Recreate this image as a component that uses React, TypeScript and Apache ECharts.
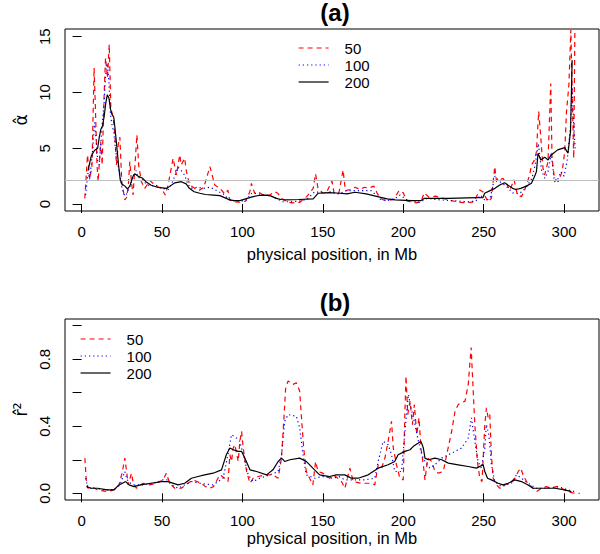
import React, { useEffect, useRef } from "react";
import * as echarts from "echarts";

// ---------- tick labels / categories ----------
const xTicks = [0, 50, 100, 150, 200, 250, 300];
const aYTicks = [0, 5, 10, 15];
const bYTicks = [0, 0.2, 0.4, 0.6, 0.8, 1.0];
const bYLabels = [0, 0.4, 0.8];
const seriesNames = ["50", "100", "200"];
const aThreshold = [2.15];

// ---------- panel (a): alpha-hat ----------
const aPos50 = [2, 3.7, 5.1, 6.5, 7.8, 8.6, 9.6, 10.3, 11.9, 12.8, 14.1, 14.9, 16.1, 17.2, 18.2, 19.7, 20.7, 21.7, 22.8, 23.8, 25, 26.9, 28, 29, 30, 31, 32, 33.1, 34.4, 35.5, 37.2, 39.3, 42.5, 45.5, 49.6, 52, 53.8, 56.9, 59, 61, 62, 64.1, 65.2, 67.2, 70.3, 73, 76, 79.8, 82.8, 86, 89, 91, 92, 95, 99, 102, 104.6, 105.6, 107.6, 109.7, 113, 117, 120, 122, 124.4, 127.5, 131, 135.7, 140, 144, 145.5, 147, 150, 152, 155.7, 157, 160, 162.6, 164, 167, 170, 173, 176, 178, 181.7, 184, 187, 190, 194, 197.4, 200, 202, 205, 208, 211, 213, 216, 220, 225, 230, 235, 240, 244, 247.5, 249.5, 252.7, 254.8, 256.9, 258, 260, 262, 264.1, 266.2, 268.9, 271, 273.5, 275.5, 278.6, 279.7, 281.7, 282.8, 284.2, 285.4, 286.9, 287.9, 290, 291.7, 292.5, 294, 296.3, 298.8, 300.4, 301.5, 303, 304.2, 305, 306, 306.7];
const aVal50 = [0.5, 4.4, 2.2, 3.5, 12.2, 8.6, 3.5, 2.0, 5.6, 3.5, 10.1, 13.1, 11.3, 14.3, 8.6, 7.7, 6.2, 3.5, 5.3, 6.0, 2.0, 0.36, 0.6, 1.5, 3.8, 2.0, 0.8, 3.2, 6.2, 3.5, 2.0, 1.4, 2.1, 1.7, 1.4, 0.8, 1.7, 4.1, 2.6, 4.4, 3.5, 4.1, 2.9, 1.7, 1.4, 1.2, 1.5, 3.35, 1.7, 1.4, 0.9, 1.25, 0.36, 0.2, 0.15, 0.25, 1.1, 1.85, 0.96, 1.1, 0.8, 0.8, 1.1, 0.96, 0.5, 0.2, 0.1, 0.15, 0.66, 1.4, 2.7, 1.4, 1.0, 0.96, 2.05, 0.96, 1.0, 3.05, 1.2, 1.3, 1.5, 1.3, 1.5, 1.4, 1.6, 0.9, 0.4, 0.3, 0.4, 1.2, 1.0, 0.3, 0.15, 0.1, 0.2, 1.0, 0.6, 0.7, 0.5, 0.3, 0.15, 0.1, 0.2, 1.25, 1.1, 0.2, 0.5, 3.35, 2.0, 2.15, 2.3, 1.85, 1.25, 2.15, 0.8, 0.66, 1.25, 2.6, 3.5, 3.95, 4.7, 8.3, 6.2, 3.2, 2.6, 3.8, 10.8, 4.1, 2.3, 2.0, 2.9, 4.7, 8.3, 10.7, 15.6, 10.1, 4.1, 15.6];

const aPos100 = [2.5, 4, 5, 6, 7, 8, 9, 10, 11, 12, 13, 14, 15, 16, 17, 18, 19, 20, 21, 22, 23, 24, 25, 26, 27, 28, 30, 32, 34, 35, 38, 40, 43, 46, 50, 54, 56, 58, 60, 62, 64, 66, 68, 72, 76, 80, 84, 88, 91, 94, 98, 102, 106, 110, 115, 120, 125, 130, 135, 140, 145, 150, 155, 160, 165, 170, 175, 180, 183, 186, 190, 195, 198, 202, 210, 215, 220, 230, 240, 245, 248, 251, 254, 257, 260, 264, 268, 272, 276, 280, 282, 284, 286, 288, 290, 292, 294, 296, 298, 300, 302, 304, 305, 306, 307];
const aVal100 = [0.8, 2.8, 2.3, 3.5, 5.0, 7.3, 6.0, 3.8, 3.5, 5.5, 7.5, 9.0, 11.8, 12.6, 11.0, 8.0, 7.0, 6.5, 5.0, 4.0, 3.2, 2.5, 1.5, 1.0, 0.7, 0.9, 1.6, 2.4, 3.0, 2.4, 2.2, 1.8, 1.6, 1.7, 1.4, 1.3, 1.8, 2.5, 3.3, 3.0, 2.6, 1.8, 1.4, 1.5, 1.4, 1.5, 1.2, 0.9, 0.5, 0.3, 0.25, 0.3, 1.0, 0.9, 0.8, 0.6, 0.2, 0.2, 0.25, 0.4, 1.1, 1.0, 1.1, 0.9, 1.2, 1.2, 1.2, 1.2, 0.8, 0.4, 0.3, 0.5, 0.8, 0.4, 0.15, 0.5, 0.4, 0.3, 0.2, 0.25, 0.8, 0.3, 0.5, 2.5, 2.0, 1.6, 1.0, 0.9, 1.4, 2.3, 3.5, 5.4, 3.0, 2.3, 2.9, 4.5, 2.0, 2.2, 2.9, 2.5, 4.0, 7.0, 10.5, 7.0, 4.8];

const aPos200 = [4, 6, 8, 10, 11, 12, 13, 14, 15, 16, 17, 18, 19, 20, 21, 22, 23, 24, 25, 27, 28.5, 30, 32, 33, 35, 38, 40, 43, 47, 50, 53, 55, 58, 62, 65, 67, 70, 73.5, 77, 82, 86, 90, 92, 95, 98.4, 103, 106.7, 111, 115, 118, 121, 124, 127, 135, 144, 147, 154, 160.5, 165, 170, 177, 184, 190, 195, 205, 211, 213, 228, 240, 246.5, 249.5, 250.6, 254, 257, 260, 263, 266, 268, 270, 273, 276.6, 279.7, 282, 282.8, 283.8, 285.5, 288, 290, 292, 296, 300.4, 302.4, 304, 305];
const aVal200 = [3.0, 4.3, 4.8, 5.0, 6.0, 6.7, 7.0, 7.8, 9.0, 9.8, 9.5, 8.5, 8.0, 7.8, 6.5, 5.0, 3.5, 2.2, 1.8, 1.6, 1.35, 1.6, 2.5, 2.7, 2.5, 2.3, 2.0, 1.7, 1.5, 1.45, 1.4, 1.6, 1.9, 2.0, 1.8, 1.4, 1.1, 0.96, 0.85, 0.8, 0.75, 0.5, 0.36, 0.3, 0.3, 0.5, 0.66, 0.78, 0.8, 0.7, 0.5, 0.4, 0.36, 0.4, 0.45, 0.96, 1.02, 0.96, 0.9, 1.05, 0.9, 0.66, 0.45, 0.36, 0.3, 0.3, 0.5, 0.5, 0.55, 0.57, 0.56, 0.96, 1.2, 1.4, 1.7, 1.9, 1.6, 1.4, 1.3, 1.4, 1.6, 1.85, 2.6, 2.9, 4.55, 3.95, 4.2, 3.95, 4.4, 4.85, 5.05, 4.55, 6.5, 12.9];

// ---------- panel (b): r^2-hat ----------
const bPos50 = [2.05, 3, 4, 6, 10, 16, 20, 23.3, 25.4, 26.9, 28, 29, 31, 32, 34, 38.2, 42.4, 46.5, 50.6, 52.7, 54.8, 57.9, 62, 66.2, 69.3, 74.5, 77, 79.8, 82, 86, 89, 91.1, 92.2, 93.2, 94.3, 95.3, 97.4, 98.4, 99.5, 100.5, 102.6, 104.7, 106.7, 109.8, 114, 119, 122.2, 124.3, 125.7, 126.9, 128.4, 131.5, 133.5, 135.6, 136.6, 138.1, 139.7, 141.8, 143.8, 145.5, 147, 150, 154.2, 156.3, 158, 161.6, 163.7, 166.8, 168.9, 174, 180.3, 182.3, 184.4, 186.5, 188.6, 190.6, 192.7, 193.8, 195.8, 197.9, 200, 201, 201.7, 202.8, 204.2, 205.7, 206.9, 208.4, 209.8, 211, 212.5, 213.5, 215.2, 217.7, 219.7, 221.8, 224.9, 227, 230.1, 232.2, 234.2, 238.4, 240.4, 242.2, 243.5, 244.5, 246.1, 247.6, 249, 250.7, 251.7, 252.8, 253.8, 254.8, 255.9, 258, 260, 263.2, 267.3, 269.4, 271.5, 273, 274.5, 276.6, 279.7, 282.8, 285.9, 289, 292, 295.2, 298.3, 302.4, 306.6, 309.7];
const bVal50 = [0.21, 0.07, 0.03, 0.04, 0.02, 0.01, 0.02, 0.05, 0.13, 0.21, 0.13, 0.05, 0.12, 0.07, 0.03, 0.06, 0.05, 0.06, 0.08, 0.12, 0.06, 0.03, 0.03, 0.06, 0.08, 0.06, 0.04, 0.03, 0.04, 0.11, 0.09, 0.07, 0.23, 0.19, 0.27, 0.29, 0.19, 0.31, 0.37, 0.27, 0.13, 0.06, 0.09, 0.1, 0.11, 0.11, 0.09, 0.21, 0.43, 0.63, 0.67, 0.65, 0.66, 0.61, 0.47, 0.27, 0.13, 0.09, 0.05, 0.19, 0.13, 0.12, 0.09, 0.11, 0.1, 0.07, 0.03, 0.15, 0.07, 0.06, 0.06, 0.05, 0.17, 0.15, 0.21, 0.31, 0.43, 0.27, 0.17, 0.09, 0.08, 0.47, 0.7, 0.47, 0.55, 0.41, 0.53, 0.35, 0.45, 0.27, 0.17, 0.08, 0.21, 0.19, 0.13, 0.12, 0.13, 0.23, 0.37, 0.49, 0.53, 0.55, 0.65, 0.87, 0.61, 0.41, 0.19, 0.09, 0.07, 0.41, 0.51, 0.45, 0.47, 0.23, 0.09, 0.05, 0.03, 0.05, 0.07, 0.09, 0.13, 0.15, 0.11, 0.07, 0.04, 0.01, 0.03, 0.04, 0.03, 0.04, 0.03, 0.01, 0.0, 0.0];

const bPos100 = [2.5, 4, 8, 14, 20, 24, 25.4, 26.9, 28, 29, 32, 38, 45, 50.6, 53, 56, 60, 64, 68.3, 73.5, 81.8, 88, 91, 93.2, 96.3, 98.4, 100.5, 103.6, 106.7, 110.9, 117, 122.2, 124.3, 126.3, 128.4, 133.5, 135.6, 137.7, 139.7, 144.9, 150, 156.3, 160, 163.7, 170, 176, 182.3, 184.4, 187.5, 190.6, 192.7, 194.7, 198.9, 202, 203.2, 204.8, 206.9, 209, 211.5, 213.5, 216.6, 219.7, 223.9, 228, 232.2, 236.3, 240.4, 242.4, 244.5, 246.5, 248.6, 250.7, 251.7, 253.2, 254.8, 256.9, 261, 267.3, 270.4, 273.5, 277.6, 282.8, 290, 296.3, 302.4, 306.6];
const bVal100 = [0.09, 0.03, 0.03, 0.02, 0.02, 0.05, 0.09, 0.13, 0.09, 0.07, 0.05, 0.05, 0.06, 0.08, 0.08, 0.05, 0.03, 0.05, 0.07, 0.06, 0.05, 0.09, 0.23, 0.35, 0.33, 0.31, 0.23, 0.11, 0.07, 0.09, 0.11, 0.13, 0.23, 0.43, 0.47, 0.46, 0.39, 0.23, 0.11, 0.09, 0.1, 0.09, 0.1, 0.08, 0.08, 0.08, 0.09, 0.19, 0.31, 0.29, 0.23, 0.13, 0.13, 0.47, 0.59, 0.51, 0.43, 0.33, 0.23, 0.19, 0.15, 0.17, 0.21, 0.23, 0.25, 0.27, 0.33, 0.45, 0.31, 0.19, 0.15, 0.27, 0.41, 0.35, 0.17, 0.07, 0.04, 0.06, 0.11, 0.09, 0.06, 0.03, 0.03, 0.04, 0.02, 0.01];

const bPos200 = [3, 6, 10, 16, 20, 23.3, 27.5, 29.5, 32.6, 36.7, 43, 49.6, 53.8, 60, 64.1, 68.3, 72.4, 76.5, 81.8, 87, 90, 92.2, 94.3, 97.4, 99.5, 101.5, 104.7, 108.8, 115, 119, 122.2, 124.3, 126.3, 129.5, 135.6, 139.7, 143.8, 148, 154.2, 158.3, 163.7, 167.8, 172, 178.2, 184.4, 190.6, 194.7, 196.8, 201, 204.2, 206.3, 209.4, 211, 212.5, 213.5, 215.6, 219.7, 223.9, 228, 234.2, 240.4, 245.5, 249.7, 250.7, 252.4, 254.8, 259, 262, 265.2, 269.4, 273.5, 277.6, 280.7, 285.9, 294.2, 300.4, 304.5];
const bVal200 = [0.04, 0.03, 0.03, 0.02, 0.02, 0.05, 0.07, 0.05, 0.04, 0.05, 0.06, 0.07, 0.07, 0.05, 0.06, 0.09, 0.1, 0.11, 0.12, 0.14, 0.23, 0.27, 0.26, 0.25, 0.25, 0.21, 0.14, 0.13, 0.11, 0.14, 0.19, 0.21, 0.19, 0.2, 0.21, 0.19, 0.15, 0.11, 0.1, 0.11, 0.11, 0.09, 0.09, 0.11, 0.15, 0.17, 0.19, 0.23, 0.25, 0.26, 0.28, 0.3, 0.31, 0.27, 0.21, 0.2, 0.21, 0.2, 0.18, 0.17, 0.16, 0.15, 0.17, 0.13, 0.09, 0.08, 0.06, 0.05, 0.06, 0.08, 0.07, 0.05, 0.03, 0.03, 0.03, 0.02, 0.01];

const zip = (xs: number[], ys: number[]) => xs.map((x, i) => [x, ys[i]]);

const FONT = "'Liberation Sans', Arial, Helvetica, sans-serif";
const COLORS = ["#ff0000", "#0000ff", "#000000"];
const LTYPES: any[] = [[5, 4], [1.2, 3], "solid"];
const LW = 1.2;

function buildOption() {
  const grids = [
    { left: 65, top: 29, width: 534, height: 182 },
    { left: 65, top: 319, width: 534, height: 181 },
  ].map((g) => ({ ...g, show: true, borderColor: "#000", borderWidth: 1, backgroundColor: "transparent" }));

  const xAxis = [0, 1].map((i) => ({
    type: "value",
    gridIndex: i,
    min: -10.3,
    max: 321.7,
    name: "physical position, in Mb",
    nameLocation: "middle",
    nameGap: i === 0 ? 34 : 29,
    nameTextStyle: { fontFamily: FONT, fontSize: 16.5, color: "#000" },
    axisLine: { show: false },
    splitLine: { show: false },
    axisTick: { show: true, length: 9, customValues: xTicks, lineStyle: { color: "#000" } },
    axisLabel: { customValues: xTicks, margin: 13, fontFamily: FONT, fontSize: 15, color: "#000" },
  }));

  const yAxis = [
    {
      type: "value",
      gridIndex: 0,
      min: -0.63,
      max: 15.69,
      name: "α\u0302",
      nameLocation: "middle",
      nameRotate: 90,
      nameGap: 26,
      nameTextStyle: { fontFamily: "'DejaVu Sans', sans-serif", fontSize: 17, color: "#000" },
      axisLine: { show: false },
      splitLine: { show: false },
      axisTick: { show: true, length: 9, customValues: aYTicks, lineStyle: { color: "#000" } },
      axisLabel: { customValues: aYTicks, rotate: 90, margin: 13, fontFamily: FONT, fontSize: 15, color: "#000" },
    },
    {
      type: "value",
      gridIndex: 1,
      min: -0.04,
      max: 1.04,
      name: "r\u0302²",
      nameLocation: "middle",
      nameRotate: 90,
      nameGap: 36,
      nameTextStyle: { fontFamily: "'DejaVu Sans', sans-serif", fontSize: 18, color: "#000" },
      axisLine: { show: false },
      splitLine: { show: false },
      axisTick: { show: true, length: 9, customValues: bYTicks, lineStyle: { color: "#000" } },
      axisLabel: {
        customValues: bYLabels,
        rotate: 90,
        margin: 13,
        fontFamily: FONT,
        fontSize: 15,
        color: "#000",
        formatter: (v: number) => v.toFixed(1),
      },
    },
  ];

  const aData = [zip(aPos50, aVal50), zip(aPos100, aVal100), zip(aPos200, aVal200)];
  const bData = [zip(bPos50, bVal50), zip(bPos100, bVal100), zip(bPos200, bVal200)];

  const mk = (data: number[][], k: number, gi: number) => ({
    type: "line",
    name: seriesNames[k],
    xAxisIndex: gi,
    yAxisIndex: gi,
    data,
    symbol: "none",
    showSymbol: false,
    smooth: false,
    clip: true,
    z: 3 + k,
    lineStyle: { color: COLORS[k], width: LW, type: LTYPES[k] },
    itemStyle: { color: COLORS[k] },
  });

  const series: any[] = [];
  series.push({
    type: "line",
    name: "threshold",
    xAxisIndex: 0,
    yAxisIndex: 0,
    data: [],
    symbol: "none",
    z: 2,
    markLine: {
      silent: true,
      symbol: "none",
      label: { show: false },
      lineStyle: { color: "#bebebe", type: "solid", width: 1 },
      data: aThreshold.map((v) => ({ yAxis: v })),
    },
  });
  aData.forEach((d, k) => series.push(mk(d, k, 0)));
  bData.forEach((d, k) => series.push(mk(d, k, 1)));

  const legendBase = {
    orient: "vertical",
    data: seriesNames.map((n, k) => ({
      name: n,
      lineStyle: { color: COLORS[k], type: LTYPES[k], width: LW },
    })),
    itemWidth: 30,
    itemHeight: 18,
    itemGap: 2,
    padding: 0,
    selectedMode: false,
    itemStyle: { opacity: 0 },
    formatter: (name: string) => `{g|}${name}`,
    textStyle: {
      fontFamily: FONT,
      fontSize: 15,
      color: "#000",
      rich: { g: { width: 11 } },
    },
  };

  return {
    animation: false,
    backgroundColor: "#ffffff",
    title: [
      { text: "(a)", left: 335, top: 0, textAlign: "center", padding: 0, textStyle: { fontFamily: FONT, fontWeight: "bold", fontSize: 24, color: "#000" } },
      { text: "(b)", left: 335, top: 290, textAlign: "center", padding: 0, textStyle: { fontFamily: FONT, fontWeight: "bold", fontSize: 24, color: "#000" } },
    ],
    legend: [
      { ...legendBase, left: 298, top: 40.5 },
      { ...legendBase, left: 80, top: 331.5 },
    ],
    grid: grids,
    xAxis,
    yAxis,
    series,
  };
}

export default function App() {
  const ref = useRef<HTMLDivElement>(null);
  useEffect(() => {
    if (!ref.current) return;
    const chart = echarts.init(ref.current, undefined, { renderer: "svg" });
    chart.setOption(buildOption() as any);
    return () => chart.dispose();
  }, []);
  return (
    <div
      ref={ref}
      style={{ position: "fixed", left: 0, top: 0, width: 600, height: 554, background: "#fff" }}
    />
  );
}
